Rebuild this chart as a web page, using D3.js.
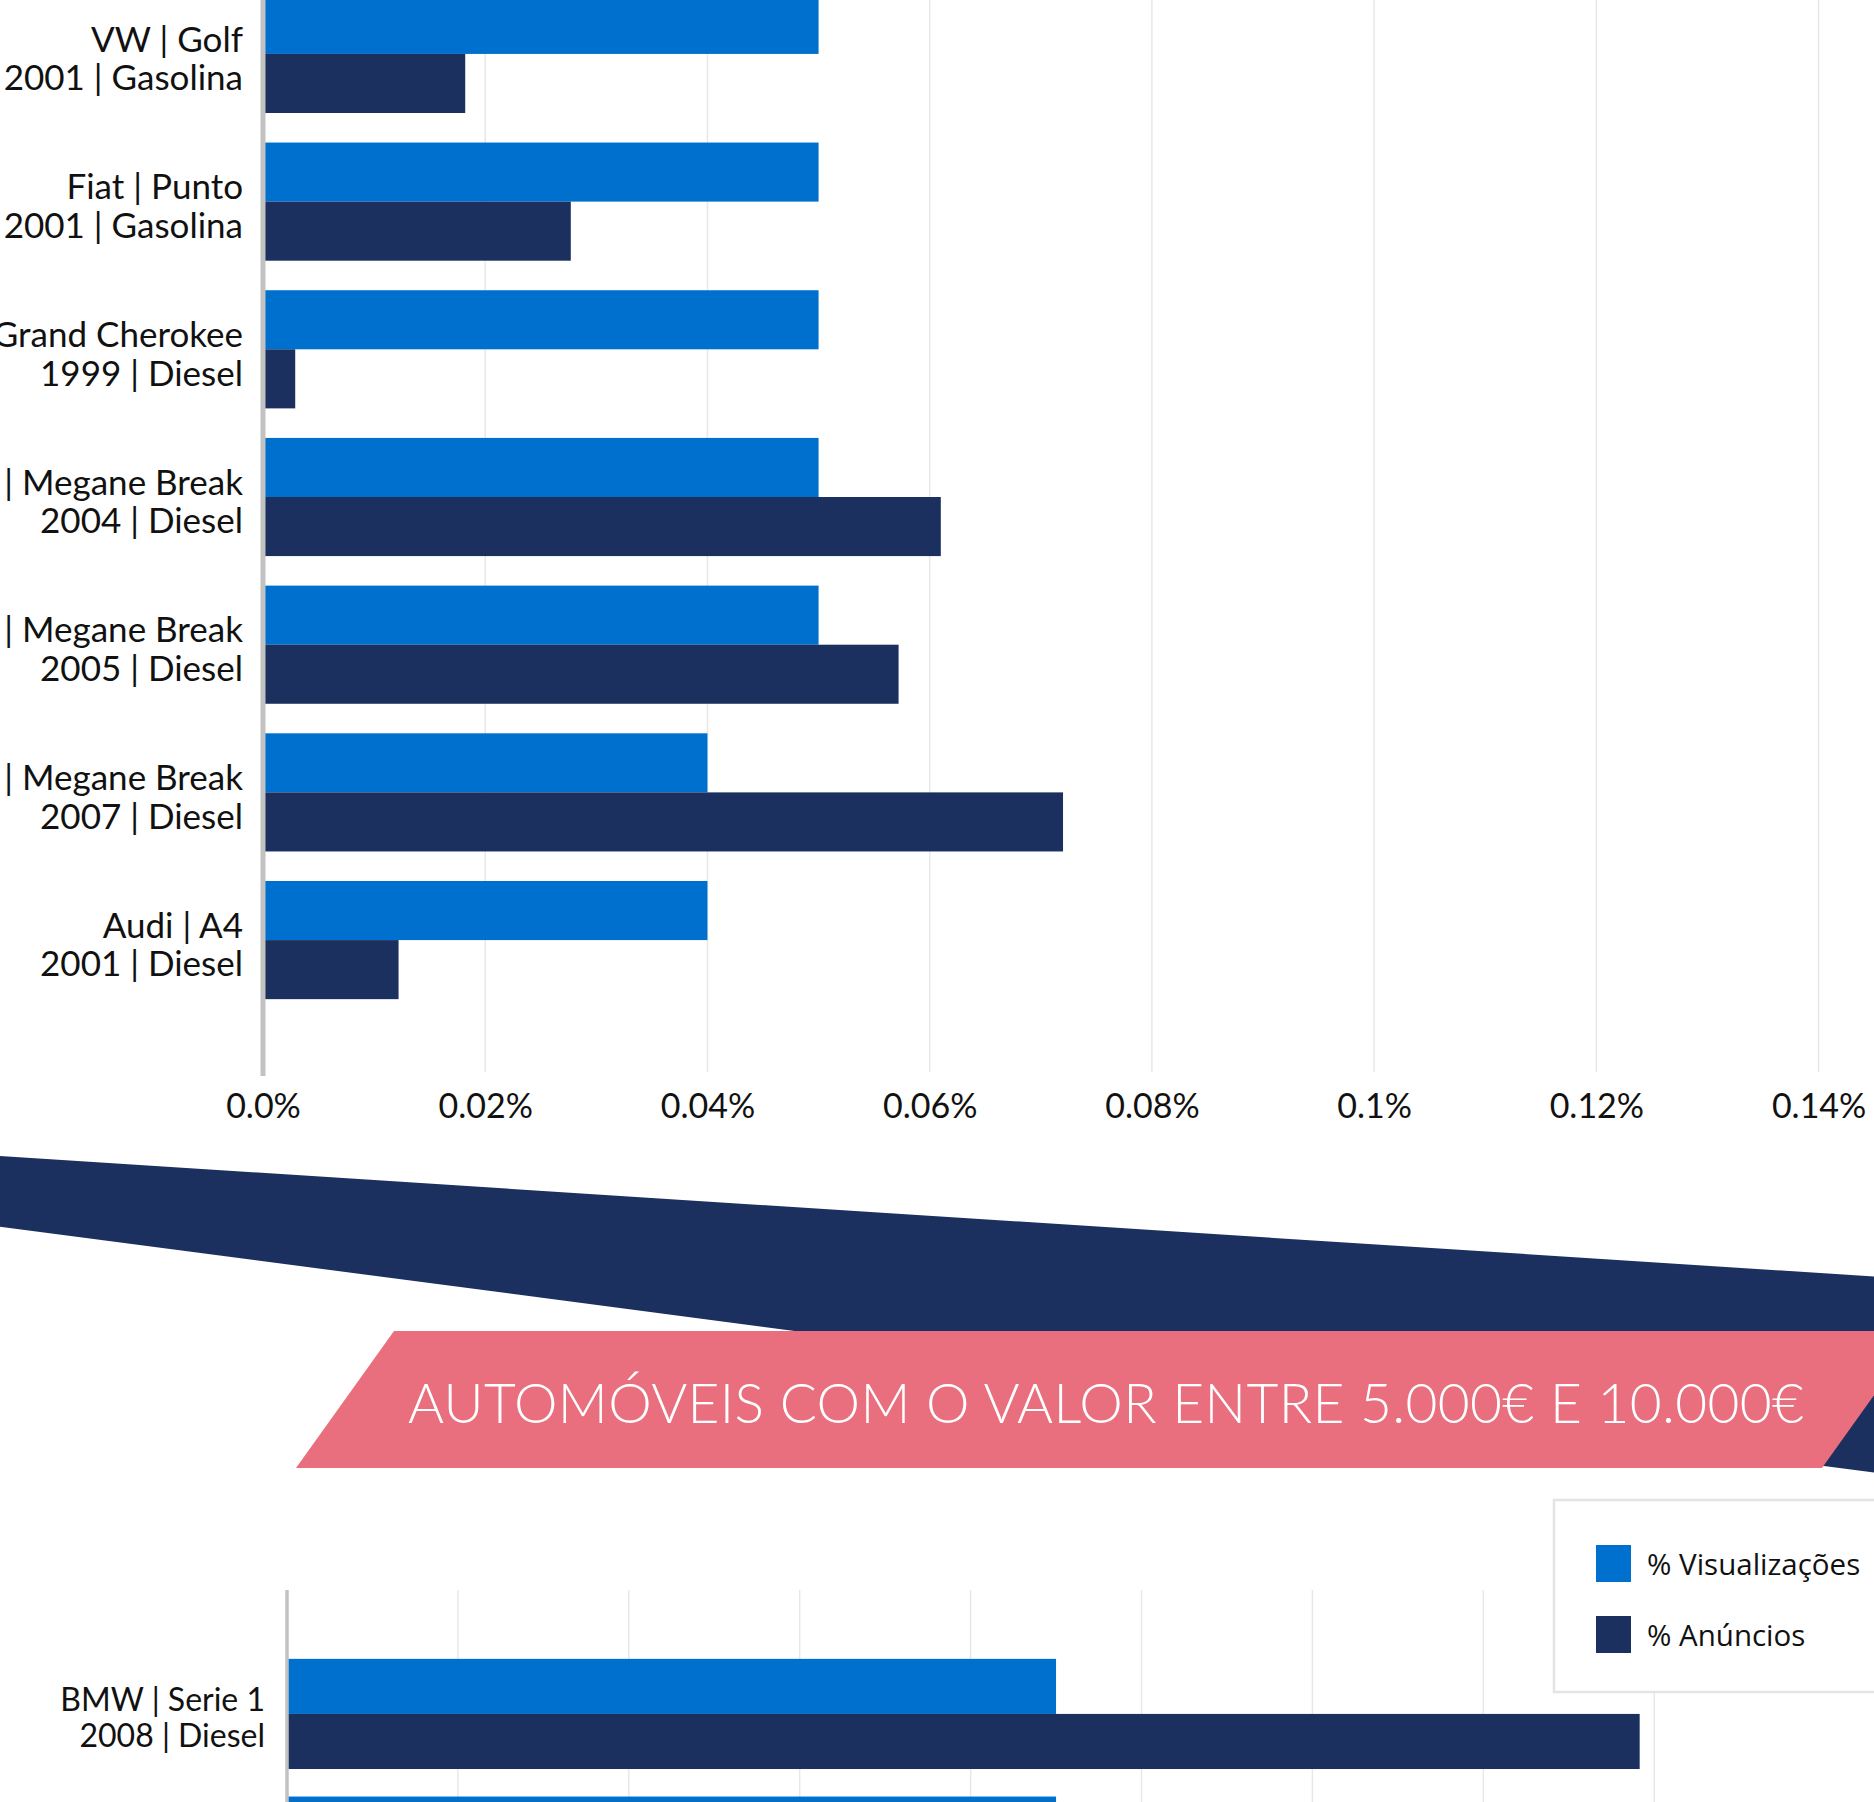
<!DOCTYPE html>
<html>
<head>
<meta charset="utf-8">
<script src="https://cdn.jsdelivr.net/npm/d3@7"></script>
<style>
  html, body { margin: 0; padding: 0; background: #fff; }
  svg { display: block; }
</style>
</head>
<body>
<div id="chart"></div>
<script>
const topCategories = [
  ['VW | Golf', '2001 | Gasolina'],
  ['Fiat | Punto', '2001 | Gasolina'],
  ['Jeep | Grand Cherokee', '1999 | Diesel'],
  ['Renault | Megane Break', '2004 | Diesel'],
  ['Renault | Megane Break', '2005 | Diesel'],
  ['Renault | Megane Break', '2007 | Diesel'],
  ['Audi | A4', '2001 | Diesel'],
]
const topVisualizacoes = [0.05, 0.05, 0.05, 0.05, 0.05, 0.04, 0.04]
const topAnuncios = [0.0182, 0.0277, 0.0029, 0.061, 0.0572, 0.072, 0.0122]

const bottomCategories = [
  ['BMW | Serie 1', '2008 | Diesel'],
  ['', ''],
]
const bottomVisualizacoes = [0.09, 0.09]
const bottomAnuncios = [0.1583, null]

const xTicks = [0, 0.02, 0.04, 0.06, 0.08, 0.1, 0.12, 0.14]
const bottomGrid = [0.02, 0.04, 0.06, 0.08, 0.1, 0.12, 0.14, 0.16]
const seriesNames = ['% Visualizações', '% Anúncios']
const bannerTitle = 'AUTOMÓVEIS COM O VALOR ENTRE 5.000€ E 10.000€'

const width = 1874
const height = 1802
const blue = '#0070cf'
const navy = '#1b305f'
const pink = '#e96e7e'
const gridColor = '#e8e8e8'
const axisColor = '#c2c2c2'

const svg = d3
  .select('#chart')
  .append('svg')
  .attr('width', width)
  .attr('height', height)

svg.append('rect').attr('width', width).attr('height', height).attr('fill', '#fff')

const fmt = d => (d === 0 ? '0.0%' : `${+d.toFixed(2)}%`)

function drawBars(g, cfg) {
  const rows = cfg.categories.map((c, i) => ({
    label: c,
    key: i,
    vis: cfg.vis[i],
    anu: cfg.anu[i],
  }))

  const x = d3.scaleLinear().domain(cfg.domain).range(cfg.xRange)
  const y = d3
    .scaleBand()
    .domain(rows.map(d => d.key))
    .range(cfg.yRange)
    .paddingInner(0.2)
    .paddingOuter(0.5)
  const sub = d3.scaleBand().domain(['vis', 'anu']).range([0, y.bandwidth()])

  // gridlines
  g.append('g')
    .selectAll('line')
    .data(cfg.grid)
    .join('line')
    .attr('x1', d => x(d))
    .attr('x2', d => x(d))
    .attr('y1', cfg.gridTop)
    .attr('y2', cfg.gridBottom)
    .attr('stroke', gridColor)
    .attr('stroke-width', 1.5)

  const group = g
    .append('g')
    .selectAll('g')
    .data(rows)
    .join('g')
    .attr('transform', d => `translate(0,${y(d.key)})`)

  group
    .selectAll('rect')
    .data(d => [
      { k: 'vis', v: d.vis },
      { k: 'anu', v: d.anu },
    ].filter(e => e.v != null))
    .join('rect')
    .attr('x', x(0))
    .attr('y', d => sub(d.k))
    .attr('width', d => x(d.v) - x(0))
    .attr('height', sub.bandwidth())
    .attr('fill', d => (d.k === 'vis' ? blue : navy))

  // two-line category labels
  const labels = group
    .append('text')
    .attr('text-anchor', 'end')
    .attr('font-family', 'Lato, sans-serif')
    .attr('font-size', cfg.labelSize)
    .attr('fill', '#111')
  labels
    .selectAll('tspan')
    .data(d => d.label)
    .join('tspan')
    .attr('x', cfg.labelX)
    .attr('y', (d, i) => y.bandwidth() / 2 + cfg.labelShift + (i - 0.5) * cfg.lineGap)
    .attr('dominant-baseline', 'central')
    .text(d => d)

  // y axis line
  g.append('line')
    .attr('x1', x(0))
    .attr('x2', x(0))
    .attr('y1', cfg.gridTop)
    .attr('y2', cfg.axisBottom)
    .attr('stroke', axisColor)
    .attr('stroke-width', cfg.axisWidth)

  return x
}

// top chart
const topG = svg.append('g')
const xTop = drawBars(topG, {
  categories: topCategories,
  vis: topVisualizacoes,
  anu: topAnuncios,
  domain: [0, 0.14],
  xRange: [263, 1818.6],
  yRange: [-79, 1073],
  grid: xTicks.slice(1),
  gridTop: 0,
  gridBottom: 1072,
  axisBottom: 1076,
  axisWidth: 5,
  labelX: 243,
  labelSize: 35,
  labelShift: 3,
  lineGap: 38.5,
})

const xAxis = d3.axisBottom(xTop).tickValues(xTicks).tickFormat(fmt).tickSize(0).tickPadding(0)
topG
  .append('g')
  .attr('transform', 'translate(0,1106)')
  .call(xAxis)
  .call(a => a.select('.domain').remove())
  .selectAll('text')
  .attr('font-family', 'Lato, sans-serif')
  .attr('font-size', 34)
  .attr('fill', '#111')
  .attr('dy', '0.35em')

// ribbon decoration
svg
  .append('polygon')
  .attr('points', '0,1156 1874,1276.5 1874,1472.5 0,1226.7')
  .attr('fill', navy)

svg
  .append('polygon')
  .attr('points', '394,1331 1920,1331 1822,1468 296,1468')
  .attr('fill', pink)

svg
  .append('text')
  .attr('x', 408)
  .attr('y', 1402)
  .attr('dominant-baseline', 'central')
  .attr('font-family', 'Lato, sans-serif')
  .attr('font-weight', 300)
  .attr('font-size', 55)
  .attr('fill', '#fff')
  .attr('textLength', 1396)
  .attr('lengthAdjust', 'spacing')
  .text(bannerTitle)

// bottom chart
const bottomG = svg.append('g')
drawBars(bottomG, {
  categories: bottomCategories,
  vis: bottomVisualizacoes,
  anu: bottomAnuncios,
  domain: [0, 0.16],
  xRange: [287, 1654.2],
  yRange: [1590, 1590 + 137.7 * 2.8],
  grid: bottomGrid,
  gridTop: 1590,
  gridBottom: height,
  axisBottom: height,
  axisWidth: 3.5,
  labelX: 265,
  labelSize: 32,
  labelShift: 3,
  lineGap: 36,
})

// legend
const legend = svg.append('g').attr('transform', 'translate(1554,1500)')
legend
  .append('rect')
  .attr('width', 340)
  .attr('height', 192)
  .attr('fill', '#fff')
  .attr('stroke', '#e4e4e4')
  .attr('stroke-width', 2.5)

const item = legend
  .selectAll('g.item')
  .data(seriesNames)
  .join('g')
  .attr('class', 'item')
  .attr('transform', (d, i) => `translate(42,${45 + i * 71})`)

item
  .append('rect')
  .attr('width', 35)
  .attr('height', 37)
  .attr('fill', (d, i) => (i === 0 ? blue : navy))

item
  .append('text')
  .attr('x', 51)
  .attr('y', 18)
  .attr('dominant-baseline', 'central')
  .attr('font-family', '"Open Sans", sans-serif')
  .attr('font-size', 29.5)
  .attr('fill', '#111')
  .text(d => d)
</script>
</body>
</html>
